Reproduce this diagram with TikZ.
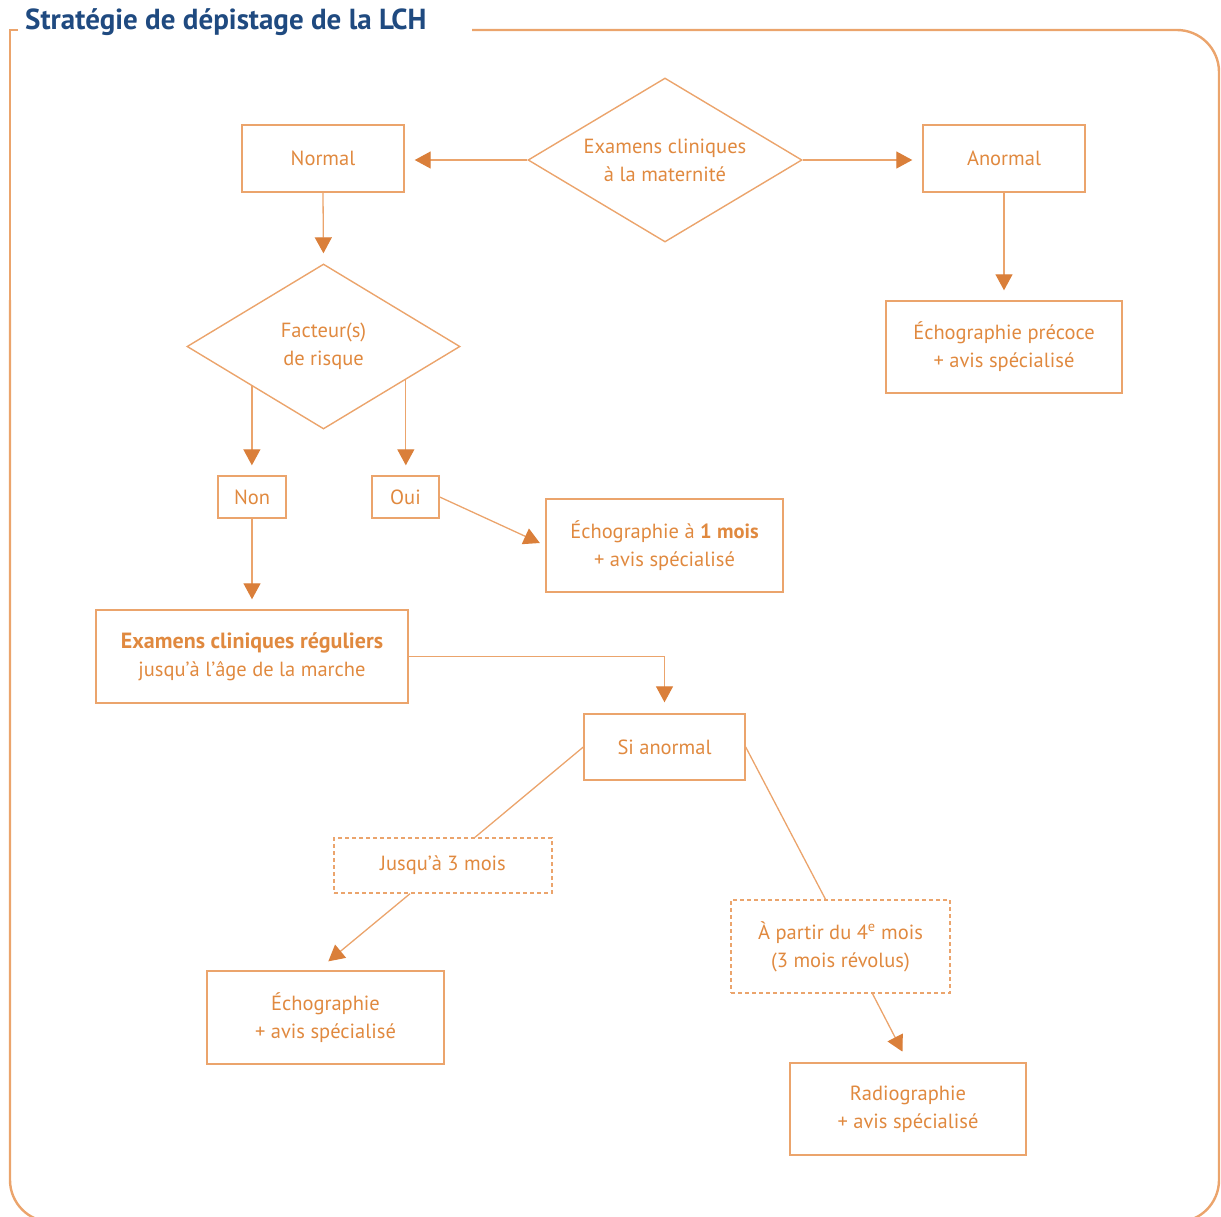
\documentclass[tikz,border=0pt]{standalone}
\usepackage{fontspec}
\setmainfont{PT Sans}
\usetikzlibrary{shapes.geometric,arrows.meta,calc}
\definecolor{linec}{HTML}{EBA46C}
\definecolor{textc}{HTML}{E0893F}
\definecolor{tipc}{HTML}{DA7F3A}
\definecolor{titlec}{HTML}{1F4A80}
\begin{document}
\begin{tikzpicture}[x=1pt,y=-1pt,
  every node/.style={font=\fontsize{20.5}{28}\selectfont, text=textc, align=center, inner sep=0pt},
  box/.style={draw=linec, line width=1.4pt, rectangle},
  dbox/.style={draw=linec, line width=1.4pt, rectangle, dash pattern=on 4pt off 3pt},
  dia/.style={draw=linec, line width=1.4pt, diamond, aspect=1.67},
  conn/.style={draw=linec, line width=1.3pt},
  arr/.style={conn, -{Triangle[length=16pt,width=17pt,color=tipc]}, shorten >=10pt}]
\useasboundingbox (0,0) rectangle (1221,1216);
\begin{scope}
\clip (0,0) rectangle (1221,1216);
\draw[linec, line width=2.4pt, rounded corners=42pt] (472,30) -- (1219,30) -- (1219,1222) -- (10,1222) -- (10,300);
\draw[linec, line width=2.4pt] (10,300) -- (10,30) -- (18,30);
\end{scope}
\node[anchor=west, text=titlec, font=\fontsize{29}{32}\selectfont\bfseries] (title) at (25,22) {Stratégie de dépistage de la LCH};

\node[dia, minimum width=274pt, minimum height=164pt] (exam) at (665,160) {Examens cliniques\\à la maternité};
\node[box, minimum width=162pt, minimum height=67pt] (normal) at (323,158.5) {Normal};
\node[box, minimum width=162pt, minimum height=67pt] (anormal) at (1004,158.5) {Anormal};
\node[dia, minimum width=273pt, minimum height=165pt] (facteur) at (323.5,346.5) {Facteur(s)\\de risque};
\node[box, minimum width=236pt, minimum height=92pt] (precoce) at (1004,347) {Échographie précoce\\+ avis spécialisé};
\node[box, minimum width=68pt, minimum height=42pt] (non) at (252,497) {Non};
\node[box, minimum width=67pt, minimum height=42pt] (oui) at (405.5,497) {Oui};
\node[box, minimum width=237pt, minimum height=93pt] (echo1) at (664.5,545.5) {Échographie à \textbf{1 mois}\\+ avis spécialisé};
\node[box, minimum width=312pt, minimum height=93pt] (regul) at (252,656.5) {{\fontsize{22}{28}\selectfont\textbf{Examens cliniques réguliers}}\\jusqu’à l’âge de la marche};
\node[box, minimum width=161pt, minimum height=66pt] (sianormal) at (664.5,747) {Si anormal};
\node[dbox, minimum width=218pt, minimum height=55pt] (jusqu) at (443,865.5) {Jusqu’à 3 mois};
\node[dbox, minimum width=219pt, minimum height=93pt] (partir) at (840.5,946.5) {À partir du 4\textsuperscript{e} mois\\(3 mois révolus)};
\node[box, minimum width=237pt, minimum height=93pt] (echo) at (325.5,1017.5) {Échographie\\+ avis spécialisé};
\node[box, minimum width=236pt, minimum height=92pt] (radio) at (908,1109) {Radiographie\\+ avis spécialisé};

\draw[arr] (exam.west) -- (exam.west -| normal.east);
\draw[arr] (exam.east) -- (exam.east -| anormal.west);
\draw[arr] (normal.south) -- (facteur.north);
\draw[arr] (anormal.south) -- (precoce.north);
\coordinate (fl) at ($(facteur.west)!0.478!(facteur.south)$);
\coordinate (fr) at ($(facteur.south)!0.6!(facteur.east)$);
\draw[arr] (fl) -- (fl |- non.north);
\draw[arr] (fr) -- (fr |- oui.north);
\draw[arr, shorten >=6pt] (oui.east) -- (echo1.west);
\draw[arr] (non.south) -- (regul.north);
\draw[arr, shorten >=11pt] (regul.east) -| (sianormal.north);
\draw[conn] (sianormal.west) -- ([xshift=32pt]jusqu.north);
\draw[arr, shorten >=14pt] ([xshift=-33pt]jusqu.south) -- ([xshift=-8pt]echo.north);
\draw[conn] (sianormal.east) -- ([xshift=-15pt]partir.north);
\draw[arr, shorten >=12pt] ([xshift=32pt]partir.south) -- (radio.north);
\end{tikzpicture}
\end{document}
